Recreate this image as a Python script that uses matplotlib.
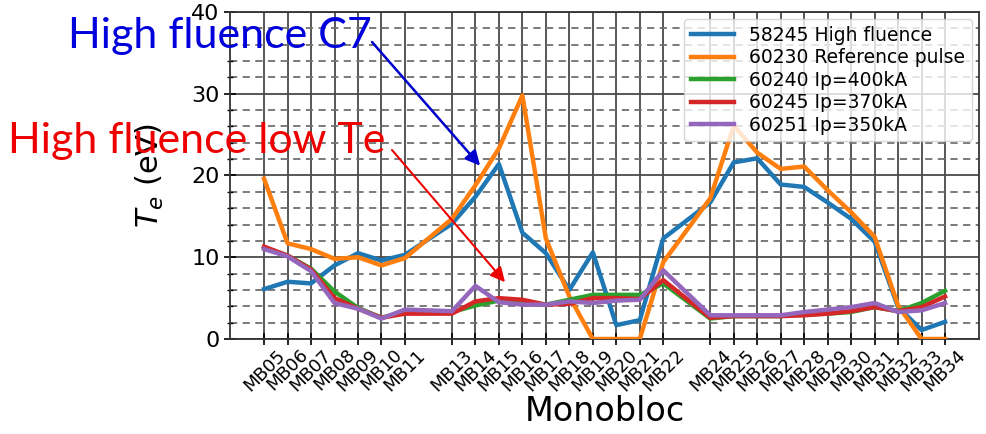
import matplotlib
matplotlib.use('Agg')
import matplotlib.pyplot as plt

# ---------- DATA ----------
monobloc = [5, 6, 7, 8, 9, 10, 11, 13, 14, 15, 16, 17, 18, 19, 20, 21, 22,
            24, 25, 26, 27, 28, 29, 30, 31, 32, 33, 34]
tick_labels = [f"MB{n:02d}" for n in monobloc]

te_58245 = [6.1, 7.0, 6.8, 9.0, 10.5, 9.6, 10.3, 14.1, 17.4, 21.4, 13.0, 10.5,
            6.0, 10.6, 1.7, 2.3, 12.3, 16.7, 21.6, 22.1, 18.9, 18.6, 16.7, 14.7,
            11.9, 3.9, 1.1, 2.1]
te_60230 = [19.6, 11.7, 11.0, 9.8, 10.0, 9.0, 9.9, 14.7, 18.8, 23.3, 29.8, 12.3,
            5.2, 0.0, 0.0, 0.0, 9.4, 17.2, 26.1, 22.8, 20.8, 21.1, 18.2, 15.5,
            12.5, 4.1, 0.0, 0.0]
te_60240 = [11.2, 10.2, 8.6, 5.8, 3.8, 2.6, 3.3, 3.3, 4.1, 4.7, 4.3, 4.2, 4.8,
            5.4, 5.4, 5.4, 6.8, 2.5, 2.8, 2.8, 2.8, 3.0, 3.1, 3.3, 3.9, 3.4,
            4.4, 5.9]
te_60245 = [11.3, 10.2, 8.5, 5.0, 3.7, 2.6, 3.1, 3.1, 4.6, 5.0, 4.8, 4.2, 4.3,
            5.0, 5.0, 4.9, 7.2, 2.6, 2.8, 2.8, 2.8, 2.9, 3.1, 3.4, 3.9, 3.4,
            3.9, 5.2]
te_60251 = [11.0, 10.1, 8.3, 4.4, 3.7, 2.5, 3.6, 3.4, 6.5, 4.5, 4.2, 4.2, 4.6,
            4.4, 4.7, 4.8, 8.4, 2.9, 2.9, 2.9, 2.9, 3.3, 3.6, 3.9, 4.4, 3.3,
            3.5, 4.4]

series = [
    ("58245 High fluence", te_58245, "tab:blue"),
    ("60230 Reference pulse", te_60230, "tab:orange"),
    ("60240 Ip=400kA", te_60240, "tab:green"),
    ("60245 Ip=370kA", te_60245, "tab:red"),
    ("60251 Ip=350kA", te_60251, "tab:purple"),
]

# ---------- FIGURE ----------
fig = plt.figure(figsize=(9.86, 4.34), dpi=100)
ax = fig.add_axes([0.2333, 0.2189, 0.7597, 0.7535])

for label, values, color in series:
    ax.plot(monobloc, values, color=color, lw=3.2, label=label, zorder=3)

ax.set_xlim(3.55, 35.45)
ax.set_ylim(0, 40)
ax.set_xticks(monobloc)
ax.set_xticklabels(tick_labels, rotation=45, fontsize=13)
ax.set_yticks([0, 10, 20, 30, 40])
ax.set_yticks(range(0, 41, 2), minor=True)
ax.tick_params(axis="y", labelsize=16, direction="inout", length=8, width=1.2)
ax.tick_params(axis="y", which="minor", direction="inout", length=5, width=1.0)
ax.tick_params(axis="x", direction="inout", length=8, width=1.2, pad=1)

# ---------- GRID ----------
ax.xaxis.grid(True, color="#4a4a4a", lw=1.3, ls="-")
ax.yaxis.grid(True, which="major", color="#4a4a4a", lw=1.3, ls="-")
ax.yaxis.grid(True, which="minor", color="#707070", lw=1.3, ls=(0, (4, 3)))
ax.set_axisbelow(True)
for sp in ax.spines.values():
    sp.set_color("#333333")
    sp.set_linewidth(1.3)

ax.set_xlabel("Monobloc", fontsize=24, labelpad=0)
ax.set_ylabel("$T_e$ (eV)", fontsize=22)
ax.yaxis.set_label_coords(-0.086, 0.5)

ax.legend(loc="upper right", fontsize=13.5, framealpha=0.8,
          handlelength=2.3, labelspacing=0.18, borderpad=0.35,
          borderaxespad=0.4)

# ---------- CALLOUTS ----------
fig.text(0.069, 0.889, "High fluence C7", color="#0000dd", fontsize=31,
         family="Lato", va="baseline", zorder=10)
fig.text(0.008, 0.647, "High fluence low Te", color="#ee0000", fontsize=31,
         family="Lato", va="baseline", zorder=10)

ax.annotate("", xy=(14.2, 21.2), xytext=(372 / 986, 1 - 42 / 434),
            textcoords="figure fraction",
            arrowprops=dict(arrowstyle="-|>", color="#0000cc", lw=1.8,
                            mutation_scale=22, shrinkA=0, shrinkB=0),
            zorder=10)
ax.annotate("", xy=(15.26, 6.95), xytext=(392 / 986, 1 - 150 / 434),
            textcoords="figure fraction",
            arrowprops=dict(arrowstyle="-|>", color="#ee0000", lw=1.5,
                            mutation_scale=22, shrinkA=0, shrinkB=0),
            zorder=10)

fig.savefig("out.png", dpi=100)
